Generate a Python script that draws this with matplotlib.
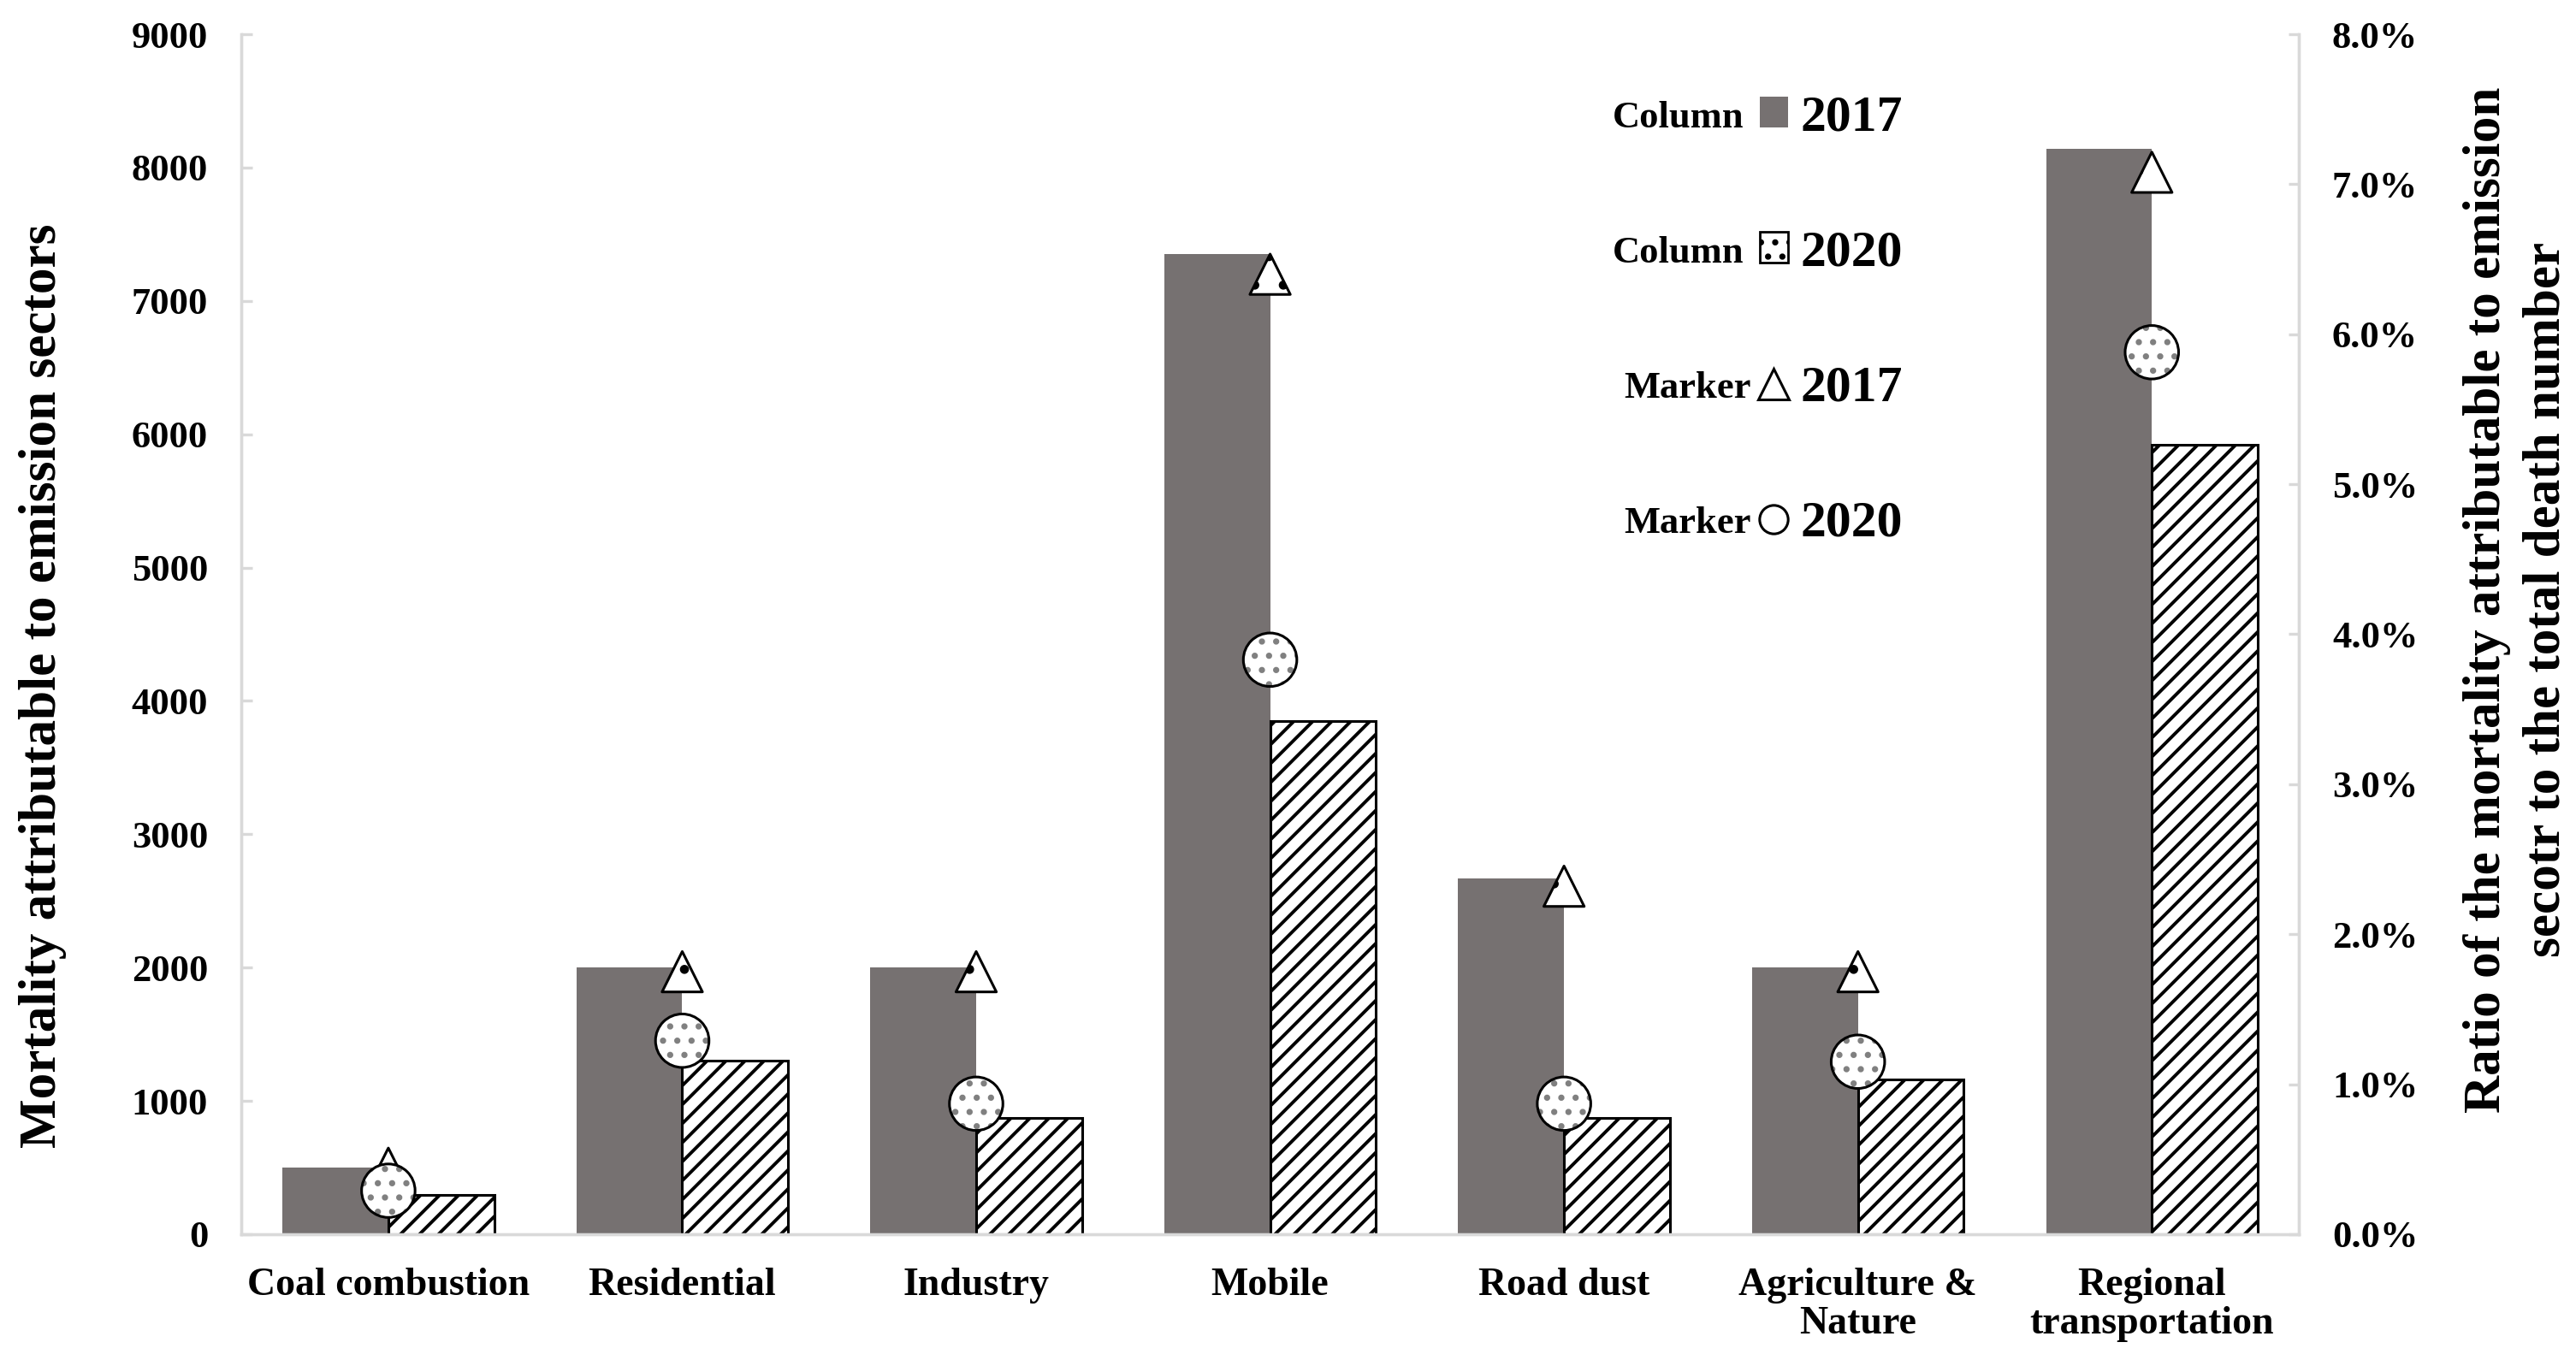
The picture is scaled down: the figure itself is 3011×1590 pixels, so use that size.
import numpy as np
import matplotlib
matplotlib.use("Agg")
import matplotlib.pyplot as plt
from matplotlib.patches import Patch
from matplotlib.lines import Line2D
from matplotlib.ticker import FuncFormatter, MultipleLocator

# data
sectors = ["Coal combustion", "Residential", "Industry", "Mobile", "Road dust",
           "Agriculture &\nNature", "Regional\ntransportation"]
deaths_2017 = [500, 2000, 2000, 7350, 2670, 2000, 8140]
deaths_2020 = [295, 1300, 870, 3850, 870, 1160, 5920]
ratio_2017 = [0.44, 1.75, 1.75, 6.40, 2.32, 1.75, 7.08]   # %
ratio_2020 = [0.29, 1.29, 0.87, 3.83, 0.87, 1.15, 5.88]   # %

plt.rcParams["font.family"] = ["Liberation Serif", "DejaVu Serif"]
plt.rcParams["font.weight"] = "bold"
plt.rcParams["hatch.linewidth"] = 1.4

GREY = "#767171"
SPINE = "#d9d9d9"

fig = plt.figure(figsize=(15.055, 7.95), dpi=200)
ax = fig.add_axes([0.0937, 0.0925, 0.8924 - 0.0937, 0.9748 - 0.0925])
ax2 = ax.twinx()

x = np.arange(len(sectors))
w = 0.36
ax.bar(x - w / 2, deaths_2017, w, color=GREY, linewidth=0, zorder=2)
ax.bar(x + w / 2, deaths_2020, w, facecolor="white", edgecolor="black",
       hatch="///", linewidth=1.1, zorder=2)

ax.set_xlim(-0.5, len(sectors) - 0.5)
ax.set_ylim(0, 9000)
ax.yaxis.set_major_locator(MultipleLocator(1000))
ax2.set_ylim(0, 8)
ax2.yaxis.set_major_locator(MultipleLocator(1))
ax2.yaxis.set_major_formatter(FuncFormatter(lambda v, p: f"{v:.1f}%"))

# markers on the ratio axis
ax2.scatter(x, ratio_2017, marker="^", s=17 ** 2, facecolor="white",
            edgecolor="black", linewidth=1.1, hatch=".", zorder=5)
# circles: grey dotted fill first, then black outline on top
ax2.scatter(x, ratio_2020, marker="o", s=22.5 ** 2, facecolor="white",
            edgecolor="#808080", linewidth=0, hatch="..", zorder=6)
ax2.scatter(x, ratio_2020, marker="o", s=22.5 ** 2, facecolor="none",
            edgecolor="black", linewidth=1.1, zorder=7)

for a in (ax, ax2):
    for s in a.spines.values():
        s.set_color(SPINE)
        s.set_linewidth(1.2)
    a.spines["top"].set_visible(False)
    a.tick_params(axis="y", direction="in", length=4.5, width=1.2, color=SPINE,
                  labelsize=16, pad=14)
ax.tick_params(axis="x", length=0, labelsize=16.5, pad=14)
ax.set_xticks(x)
ax.set_xticklabels(sectors, linespacing=1.1)

ax.set_ylabel("Mortality attributable to emission sectors", fontsize=22,
              fontweight="bold")
ax.yaxis.set_label_coords(-0.085, 0.457)
ax2.set_ylabel("Ratio of the mortality attributable to emission\n"
               "secotr to the total death number", fontsize=22,
               fontweight="bold", linespacing=1.3)
ax2.yaxis.set_label_coords(1.080, 0.529)

handles = [
    Patch(facecolor=GREY, edgecolor="none"),
    Patch(facecolor="white", edgecolor="black", hatch="..", linewidth=1.0),
    Line2D([], [], marker="^", ls="none", ms=13, mfc="white", mec="black", mew=1.1),
    Line2D([], [], marker="o", ls="none", ms=12, mfc="white", mec="black", mew=1.1),
]
leg = ax2.legend(handles, ["2017", "2020", "2017", "2020"], loc="center left",
                 bbox_to_anchor=(0.738, 0.761), frameon=False, borderpad=0,
                 borderaxespad=0, handlelength=0.55, handleheight=0.55,
                 handletextpad=0.25, labelspacing=1.74,
                 prop={"family": "Liberation Serif", "weight": "bold", "size": 21.5})

# "Column"/"Marker" words to the left of each legend key
fig.canvas.draw()
rend = fig.canvas.get_renderer()
inv = fig.transFigure.inverted()
words = ["Column", "Column", "Marker", "Marker"]
gaps = [0.0219, 0.0219, 0.0193, 0.0193]
for t, word, gap in zip(leg.get_texts(), words, gaps):
    tb = t.get_window_extent(rend)
    x0, y0 = inv.transform((tb.x0, (tb.y0 + tb.y1) / 2))
    fig.text(x0 - gap, y0, word, ha="right", va="center", fontsize=16,
             fontweight="bold")

fig.savefig("out.png", dpi=200)
